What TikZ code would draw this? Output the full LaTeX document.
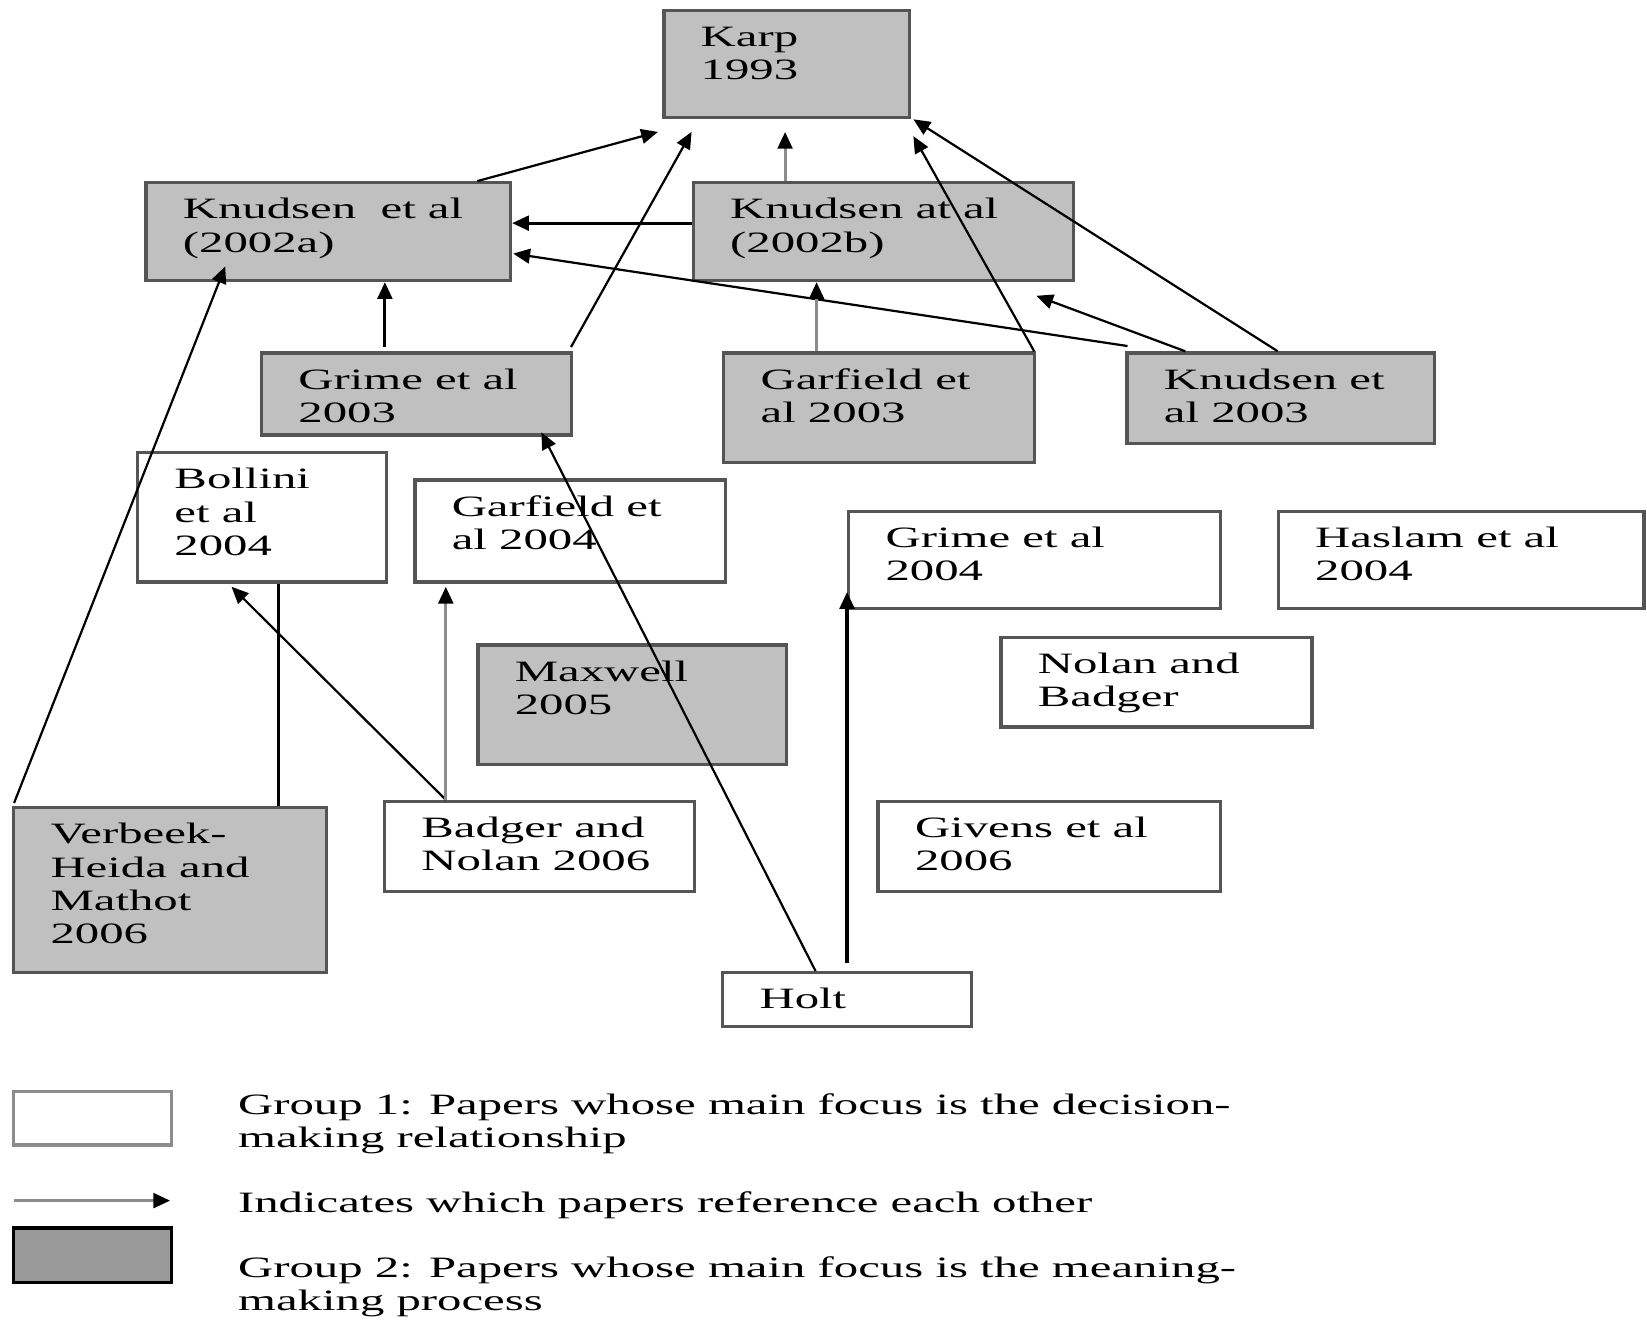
\documentclass[tikz,border=0pt]{standalone}
\usepackage{fontspec}
\setmainfont{Liberation Serif}
\usepackage{graphicx}
\usetikzlibrary{arrows.meta,calc,fit}
\definecolor{boxgray}{HTML}{C0C0C0}
\definecolor{leggray}{HTML}{999999}
\definecolor{linegray}{HTML}{8C8C8C}
\definecolor{edgegray}{HTML}{555555}
\newcommand\sx[1]{\scalebox{1.65}[1]{\begin{tabular}[t]{@{}l@{}}#1\end{tabular}}}
\newcommand\paperbox[7]{%
  \node[#6, fit={(#2,#3) (#4,#5)}] (#1) {};
  \node[txt] (#1-t) at ($(#1.north west)+(36,36)$) {\sx{#7}};}
\tikzset{
  gbox/.style={draw=edgegray, line width=0.9pt, fill=boxgray, inner sep=0pt},
  wbox/.style={draw=edgegray, line width=0.9pt, fill=white, inner sep=0pt},
  txt/.style={anchor=base west, inner sep=0pt, font=\fontsize{8pt}{9pt}\selectfont},
  arr/.style={line width=0.6pt, -{Triangle[length=0.16cm,width=0.14cm]}},
  tarr/.style={line width=0.85pt, -{Triangle[length=0.16cm,width=0.14cm]}},
  garr/.style={line width=0.85pt, draw=linegray, -{Triangle[length=0.16cm,width=0.14cm,color=black]}},
}
\begin{document}
\begin{tikzpicture}[x=0.01cm, y=-0.01cm]
\useasboundingbox (0,0) rectangle (1568,1256);

\paperbox{karp}{632}{10}{866}{112}{gbox}{Karp\\1993}
\paperbox{k2a}{139}{174}{486}{267}{gbox}{Knudsen\ \ et al\\(2002a)}
\paperbox{k2b}{660}{174}{1022}{267}{gbox}{Knudsen at al\\(2002b)}
\paperbox{g03}{249}{336}{544}{414}{gbox}{Grime et al\\2003}
\paperbox{gf03}{689}{336}{985}{440}{gbox}{Garfield et\\al 2003}
\paperbox{k03}{1073}{336}{1366}{422}{gbox}{Knudsen et\\al 2003}
\paperbox{bol}{131}{431}{368}{554}{wbox}{Bollini\\et al\\2004}
\paperbox{gf04}{395}{457}{691}{554}{wbox}{Garfield et\\al 2004}
\paperbox{g04}{808}{487}{1162}{579}{wbox}{Grime et al\\2004}
\paperbox{has}{1217}{487}{1565}{579}{wbox}{Haslam et al\\2004}
\paperbox{max}{455}{614}{749}{728}{gbox}{Maxwell\\2005}
\paperbox{nb}{953}{607}{1249}{692}{wbox}{Nolan and\\Badger}
\paperbox{ver}{13}{769}{311}{926}{gbox}{Verbeek-\\Heida and\\Mathot\\2006}
\paperbox{bn}{366}{763}{661}{849}{wbox}{Badger and\\Nolan 2006}
\paperbox{giv}{836}{763}{1162}{849}{wbox}{Givens et al\\2006}
\paperbox{holt}{688}{926}{925}{977}{wbox}{Holt}

% connectors
\draw[arr] ($(k2a.north west)+(317,0)$) -- ($(karp.south west)+(-4,12)$);
\draw[arr] ($(g03.north east)+(-2,-4)$) -- ($(karp.south west)+(28,12)$);
\draw[garr] ($(k2b.north west)+(89,0)$) -- ($(karp.south west)+(117,12)$);
\draw[arr] ($(gf03.north east)+(-2,0)$) -- ($(karp.south east)+(2,16)$);
\draw[arr] ($(k03.north west)+(145,0)$) -- ($(karp.south east)+(2,0)$);
\draw[tarr] ($(k2b.north west)+(0,40)$) -- ($(k2a.north east)+(0,40)$);
\draw[arr] ($(k03.north west)+(2,-5)$) -- ($(k2a.north east)+(1,69)$);
\draw[arr] ($(k03.north west)+(57,0)$) -- ($(k2b.south east)+(-37,13)$);
\draw[garr] ($(gf03.north west)+(90,0)$) -- ($(k2b.south west)+(119,0)$);
\draw[tarr] ($(g03.north west)+(119,-4)$) -- ($(k2a.south west)+(229,0)$);
\draw[arr] ($(ver.north west)+(2,-3)$) -- ($(k2a.south west)+(77,-15)$);
\draw[arr] ($(holt.north west)+(90,0)$) -- ($(g03.south west)+(268,-4)$);
\draw[tarr] ($(holt.north west)+(120,-8)$) -- ($(g04.south west)+(0,-17)$);
\draw[arr] ($(bn.north west)+(60,0)$) -- ($(bol.south west)+(91,3)$);
\draw[garr] ($(bn.north west)+(60,0)$) -- ($(gf04.south west)+(31,3)$);
\draw[line width=0.85pt] ($(ver.north west)+(254,0)$) -- ($(bol.south west)+(136,0)$);

% legend
\node[wbox, draw=linegray, fit={(13,1039) (163,1090)}] (leg1) {};
\coordinate (legA) at (13,1143);
\coordinate (legB) at (162,1143);
\draw[garr] (legA) -- (legB);
\node[draw=black, line width=0.9pt, fill=leggray, inner sep=0pt, fit={(13,1169) (163,1221)}] (leg2) {};
\node[txt] (leg1-t) at (226,1061) {\sx{Group 1: Papers whose main focus is the decision-\\making relationship}};
\node[txt] (legA-t) at (226,1154) {\sx{Indicates which papers reference each other}};
\node[txt] (leg2-t) at (226,1216) {\sx{Group 2: Papers whose main focus is the meaning-\\making process}};
\end{tikzpicture}
\end{document}
